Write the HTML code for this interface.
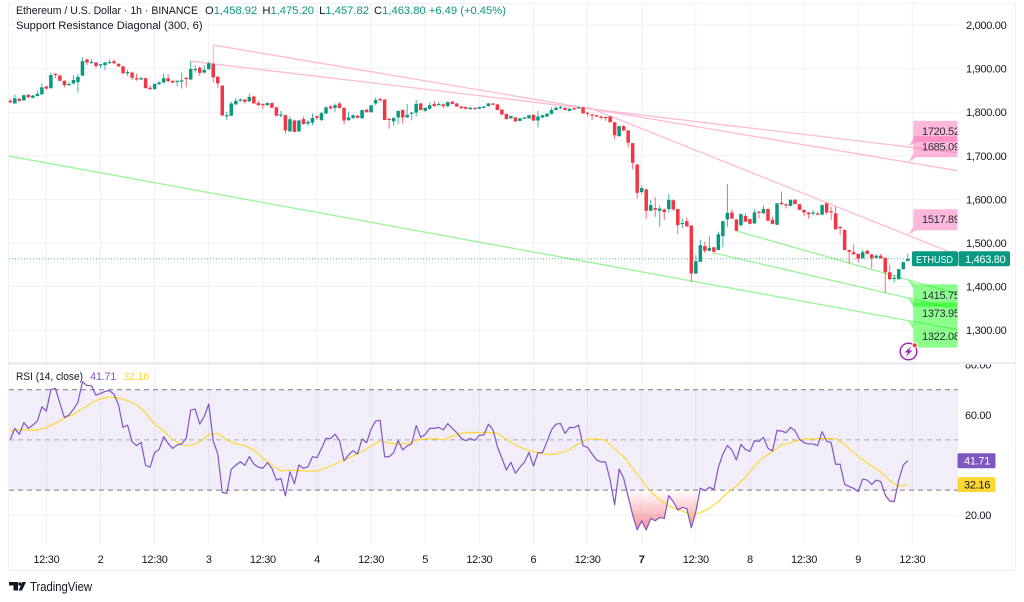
<!DOCTYPE html>
<html lang="en">
<head>
<meta charset="utf-8">
<title>ETHUSD chart</title>
<style>
html,body{margin:0;padding:0;background:#fff;width:1024px;height:602px;overflow:hidden}
svg{display:block;font-family:"Liberation Sans",sans-serif;filter:blur(.35px)}
text{fill:#131722;font-size:11px}
</style>
</head>
<body>
<svg id="chart" width="1024" height="602" viewBox="0 0 1024 602" xmlns="http://www.w3.org/2000/svg">
<defs>
<clipPath id="pane-clip"><rect x="9" y="3" width="948.5" height="359"/></clipPath>
<clipPath id="rsi-clip"><rect x="9" y="365" width="949" height="180"/></clipPath>
<clipPath id="rsi-low-clip"><rect id="rsi-low-rect" x="9" y="490" width="949" height="55"/></clipPath>
<clipPath id="rsi-high-clip"><rect id="rsi-high-rect" x="9" y="365" width="949" height="25"/></clipPath>
<clipPath id="label-80-clip"><rect x="958" y="364.5" width="60" height="14"/></clipPath>
<linearGradient id="rsi-low-grad" gradientUnits="userSpaceOnUse" x1="0" y1="490" x2="0" y2="530">
<stop offset="0" stop-color="#F23645" stop-opacity="0"/><stop offset="1" stop-color="#F23645" stop-opacity=".55"/>
</linearGradient>
<linearGradient id="rsi-high-grad" gradientUnits="userSpaceOnUse" x1="0" y1="390" x2="0" y2="365">
<stop offset="0" stop-color="#089981" stop-opacity="0"/><stop offset="1" stop-color="#089981" stop-opacity=".35"/>
</linearGradient>
</defs>
<rect x="8.5" y="3.5" width="1007" height="567" fill="#fff" stroke="#EEF1F8"/>
<g id="grid"></g>
<g id="rsi-pane"></g>
<g id="levels" clip-path="url(#pane-clip)"></g>
<line x1="8" x2="1016" y1="363" y2="363" stroke="#E9ECF2" stroke-width="2"/>
<line id="price-line" x1="9" x2="958" stroke="#089981" stroke-opacity=".7" stroke-width="1" stroke-dasharray="1 2"/>
<g id="candles"></g>
<g id="level-labels"></g>
<g id="axis"></g>

<g>
<text x="16" y="14" textLength="182" lengthAdjust="spacingAndGlyphs" style="font-size:11.2px">Ethereum / U.S. Dollar · 1h · BINANCE</text>
<text x="205" y="14" style="font-size:11.2px">O<tspan style="fill:#089981">1,458.92</tspan> <tspan dx="2">H</tspan><tspan style="fill:#089981">1,475.20</tspan> <tspan dx="2">L</tspan><tspan style="fill:#089981">1,457.82</tspan> <tspan dx="2">C</tspan><tspan style="fill:#089981">1,463.80 +6.49 (+0.45%)</tspan></text>
<text x="16" y="29" style="font-size:11.2px">Support Resistance Diagonal (300, 6)</text>
<text x="16" y="380" textLength="67" lengthAdjust="spacingAndGlyphs" style="font-size:11px">RSI (14, close)</text>
<text x="90" y="380" style="font-size:11px;fill:#7E57C2;letter-spacing:-.3px">41.71</text>
<text x="123" y="380" style="font-size:11px;fill:#FDD835;letter-spacing:-.3px">32.16</text>
</g>

<g>
<circle cx="908.5" cy="351.5" r="8.3" fill="#fff" stroke="#9C27B0" stroke-width="1.5"/>
<polygon points="911.5,346 904.5,352.5 908,352.5 905.5,357 912.5,350.5 909,350.5" fill="#9C27B0"/>
<circle cx="914.7" cy="345.3" r="2.6" fill="#F23645" stroke="#fff" stroke-width="1"/>
</g>

<g>
<polygon points="9,582 18,582 18,590.5 13.5,590.5 13.5,585.5 9,585.5" fill="#131722"/>
<circle cx="20" cy="584" r="1.7" fill="#131722"/>
<polygon points="18.5,590.5 22.5,582 26,582 22,590.5" fill="#131722"/>
<text x="30" y="591" textLength="62" lengthAdjust="spacingAndGlyphs" style="font-size:13px">TradingView</text>
</g>
</svg>

<script>
const opens=[1826,1820,1831,1827,1840,1833,1837,1841,1859,1855,
1888,1884,1872,1863,1866,1869,1884,1921,1914,1914,
1907,1908,1914,1917,1911,1905,1889,1891,1878,1875,
1878,1856,1853,1864,1868,1878,1872,1871,1872,1879,
1875,1897,1902,1891,1899,1910,1881,1861,1791,1792,
1818,1826,1829,1825,1836,1821,1819,1816,1821,1811,
1792,1793,1756,1781,1756,1784,1774,1776,1791,1782,
1797,1813,1810,1820,1810,1782,1787,1792,1786,1806,
1800,1820,1830,1829,1785,1779,1788,1805,1788,1797,
1799,1820,1803,1808,1819,1817,1818,1814,1824,1820,
1813,1812,1807,1810,1808,1810,1814,1820,1818,1806,
1796,1786,1788,1780,1785,1786,1794,1781,1788,1790,
1796,1805,1810,1810,1803,1809,1810,1811,1799,1795,
1793,1790,1789,1790,1777,1745,1768,1758,1729,1680,
1617,1623,1574,1580,1574,1577,1578,1598,1578,1544,
1550,1540,1430,1457,1493,1482,1490,1484,1516,1554,
1570,1554,1541,1562,1555,1545,1572,1568,1578,1553,
1542,1592,1589,1585,1599,1589,1576,1570,1567,1568,
1565,1591,1573,1568,1537,1530,1484,1479,1475,1465,
1482,1474,1466,1471,1466,1433,1419,1417,1440,1458.92];
const highs=[1830,1841,1832,1840,1841,1840,1849,1866,1860,1891,
1889,1886,1873,1869,1885,1888,1926,1923,1922,1915,
1911,1915,1920,1921,1912,1906,1897,1893,1888,1881,
1879,1862,1865,1872,1889,1887,1873,1873,1891,1880,
1917,1908,1905,1908,1916,1914,1884,1862,1801,1824,
1833,1832,1830,1843,1838,1826,1820,1823,1822,1813,
1803,1795,1790,1783,1782,1790,1782,1797,1793,1801,
1814,1816,1820,1823,1811,1801,1795,1793,1806,1807,
1817,1834,1833,1830,1786,1788,1804,1806,1819,1801,
1828,1821,1811,1822,1826,1824,1820,1825,1826,1821,
1814,1813,1813,1811,1813,1814,1821,1821,1819,1807,
1797,1792,1789,1787,1789,1794,1795,1803,1794,1797,
1811,1814,1815,1811,1809,1810,1813,1812,1800,1796,
1794,1791,1790,1791,1778,1769,1771,1759,1730,1681,
1632,1625,1599,1605,1586,1579,1612,1600,1579,1556,
1559,1541,1472,1508,1503,1516,1491,1526,1551,1635,
1577,1555,1568,1568,1556,1577,1573,1585,1579,1560,
1592,1618,1590,1600,1601,1590,1577,1571,1576,1572,
1588,1593,1583,1583,1538,1531,1485,1497,1476,1484,
1484,1475,1474,1475,1467,1450,1427,1440,1457,1475.2];
const lows=[1821,1820,1823,1826,1833,1832,1836,1840,1852,1854,
1878,1872,1857,1860,1864,1845,1883,1908,1912,1901,
1901,1897,1911,1911,1904,1889,1883,1874,1872,1874,
1855,1851,1852,1863,1866,1869,1867,1859,1854,1857,
1874,1893,1883,1888,1897,1868,1855,1791,1782,1791,
1816,1824,1820,1823,1820,1815,1807,1815,1810,1790,
1788,1750,1755,1754,1754,1771,1768,1770,1782,1780,
1796,1806,1801,1808,1772,1780,1784,1787,1785,1799,
1799,1816,1824,1782,1762,1769,1772,1774,1787,1782,
1790,1804,1801,1805,1813,1815,1809,1811,1818,1812,
1808,1806,1805,1805,1807,1809,1813,1816,1805,1793,
1784,1785,1778,1779,1784,1785,1780,1765,1786,1789,
1795,1804,1807,1804,1802,1805,1809,1797,1790,1782,
1789,1784,1780,1776,1738,1744,1757,1719,1669,1602,
1612,1555,1573,1560,1537,1553,1570,1574,1521,1534,
1537,1411,1429,1456,1476,1481,1476,1483,1490,1537,
1555,1527,1537,1548,1543,1544,1556,1567,1551,1543,
1541,1587,1579,1584,1589,1575,1562,1556,1563,1564,
1564,1566,1553,1531,1518,1483,1453,1473,1455,1464,
1475,1442,1465,1464,1386,1414,1409,1416,1439,1457.82];
const closes=[1823,1832,1826,1839,1834,1838,1842,1857,1854,1885,
1885,1872,1862,1865,1874,1881,1917,1914,1915,1906,
1910,1914,1915,1912,1905,1889,1892,1879,1875,1878,
1855,1853,1865,1868,1878,1871,1868,1872,1873,1876,
1899,1899,1890,1897,1912,1880,1866,1793,1793,1820,
1826,1829,1824,1835,1820,1816,1817,1821,1810,1792,
1795,1758,1784,1755,1781,1773,1778,1787,1787,1798,
1811,1809,1816,1810,1781,1788,1793,1787,1805,1800,
1816,1828,1828,1782,1782,1787,1803,1788,1794,1799,
1819,1805,1810,1816,1814,1819,1814,1823,1819,1813,
1809,1808,1810,1808,1812,1813,1820,1817,1805,1795,
1784,1791,1779,1786,1788,1793,1781,1790,1793,1797,
1805,1810,1812,1805,1808,1807,1811,1797,1797,1794,
1790,1788,1787,1777,1747,1768,1758,1730,1684,1615,
1626,1574,1587,1576,1579,1571,1599,1577,1541,1546,
1538,1430,1458,1495,1482,1489,1480,1520,1550,1569,
1556,1528,1566,1549,1544,1570,1570,1578,1551,1544,
1591,1589,1586,1599,1589,1576,1570,1566,1570,1565,
1587,1570,1571,1531,1534,1484,1480,1474,1464,1479,
1475,1465,1471,1465,1433,1417,1420,1440,1456,1463.8];
const rsiValues=[50.2,54.6,52.2,56.9,54.6,55.9,57.5,63.2,61.5,70.1,
70.5,64.6,58.9,59.9,62.2,65,73.2,71.7,71.6,67.8,
68.5,69.3,69.6,68.2,63.9,55,55.9,49.3,47.7,49,
39.9,39.1,45,46.2,51.3,48.6,46.6,48,48.4,50.6,
61.9,62.3,56.3,59.3,64.3,49.6,44.4,29.1,28.7,38.3,
39.9,41.3,39.9,43.3,40.4,39.1,38.7,40.9,38.7,34,
34.6,27.7,37.3,32.6,40,38.7,39.3,43.3,42.9,46.6,
50.6,50.5,52.3,49.7,41.7,44,45.7,44.4,50.4,48.9,
54.3,57.5,57.8,43.3,43.3,44.9,49.7,46,47.6,48.5,
55.7,51,52.2,54.6,54.6,55,54,56.5,54.6,52.9,
50.6,49.7,50.6,49.8,51.8,52,56.2,54.2,47.3,42.7,
38,41.1,36.7,39.1,41.1,45,39.6,44.9,44.9,49.3,
54,56.3,56.5,52.6,55,54.9,55.9,47.7,47,44.4,
42,41.2,41.2,34,24.1,38.4,34.7,27.4,20.1,14.1,
17.8,14.1,18.7,17.8,19.1,18.7,27.8,25.4,22.1,23.1,
22.6,15,21.4,30.7,29.8,31.1,30.3,39.1,44.4,47.8,
46,42,48.2,46.2,45.4,49.7,49.4,51,46.6,45.6,
53.8,53.5,52.9,55,53.7,50.2,48.9,48.4,48.4,47.7,
53.3,49.5,48.9,40.3,40.3,32.3,31.4,30.7,29.4,34.4,
34,32.2,34,33.4,28,25.6,25.4,34,40,41.71];
const rsiMaBars=[0,2,4,6,8,10,12,14,16,18,20,22,24,26,28,30,32,34,36,38,40,42,44,46,48,50,52,54,56,58,60,62,64,66,68,70,72,
74,76,78,80,82,84,86,88,90,92,94,96,98,100,102,104,106,108,110,112,114,116,118,120,122,124,126,128,130,132,134,136,138,140,142,144,146,148,
149,151,153,155,157,159,161,163,165,167,169,171,173,175,177,179,181,183,185,187,189,191,193,195,197,199];
const rsiMaValues=[53.4,54.2,54,53.8,54.9,56.6,58.6,60.2,62.4,64.8,66.4,67.1,66.7,65.6,64,60.85,56.3,53.5,50.2,48,47.6,49.2,52.1,52.6,50,48.4,47.7,46,42.7,40,37.6,38,37.7,37.6,37.6,38.9,40.4,
42,43.6,45.3,47.6,49.6,48.8,48.2,48.6,49.8,50.4,50.5,50,51.5,52.6,53,52.9,53,52.6,50.2,48,46.4,45.3,44.5,44.1,44.8,46.1,48.6,50.2,50.4,49.8,46.4,43.3,38.7,34,29.4,26.1,23.7,22.3,
21.7,20,21,22.7,25.4,29,31.6,35.1,39.6,43.1,45.3,48,48.9,50,50.4,50.5,50.5,50.5,48.2,44.9,42,39.6,37.2,33.8,31.5,32.16];

const priceTicks=[2000,1900,1800,1700,1600,1500,1400,1300];
const priceTickLabels=["2,000.00","1,900.00","1,800.00","1,700.00","1,600.00","1,500.00","1,400.00","1,300.00"];
const rsiTicks=[60,20];
const rsiTickLabels=["60.00","20.00"];
const rsiGridLevels=[80,60,40,20];
const rsiDashLevels=[70,50,30];
const timeTickBars=[8,20,32,44,56,68,80,92,104,116,128,140,152,164,176,188,200];
const timeTickLabels=["12:30","2","12:30","3","12:30","4","12:30","5","12:30","6","12:30","7","12:30","8","12:30","9","12:30"];
const lastBar=199;
const lineEndBar=210;
const resistanceStartBars=[40,45,128];
const resistanceStartPrices=[1917,1954,1812];
const resistanceLevels=[1720.52,1685.09,1517.89];
const supportStartBars=[161,156,-0.3];
const supportStartPrices=[1527.5,1477,1699.5];
const supportLevels=[1415.75,1373.95,1322.08];
const lastPrice=1463.8;
const lastRsi=41.71;
const lastRsiMa=32.16;

const SVGNS="http://www.w3.org/2000/svg";
const NUM='letter-spacing:-.3px;';
function xBar(i){return 10.3+4.51*i;}
function yPrice(p){return 25+(2000-p)*0.436;}
function yRsi(v){return 515.2-(v-20)*2.51;}
function add(parent,tag,attrs,txt){
  const el=document.createElementNS(SVGNS,tag);
  for(const k in attrs)el.setAttribute(k,attrs[k]);
  if(txt!==undefined)el.textContent=txt;
  parent.appendChild(el);
  return el;
}
const gridG=document.getElementById('grid');
const rsiG=document.getElementById('rsi-pane');
const levelsG=document.getElementById('levels');
const candlesG=document.getElementById('candles');
const labelsG=document.getElementById('level-labels');
const axisG=document.getElementById('axis');
const GRID="#F0F1F5";

/* grid */
timeTickBars.forEach(function(b){
  const x=xBar(b);
  const a=add(gridG,'line',{x1:x,x2:x,y1:4,y2:362,stroke:GRID});
  
  
  const c=add(gridG,'line',{x1:x,x2:x,y1:365,y2:545,stroke:GRID});
  
  
});
priceTicks.forEach(function(p){
  const l=add(gridG,'line',{x1:9,x2:958,y1:yPrice(p),y2:yPrice(p),stroke:GRID});
  
  
});

/* RSI pane */
const band=add(rsiG,'rect',{x:9,y:yRsi(70),width:949,height:yRsi(30)-yRsi(70),fill:'#7E57C2','fill-opacity':0.1});


rsiGridLevels.forEach(function(v){
  const l=add(rsiG,'line',{x1:9,x2:958,y1:yRsi(v),y2:yRsi(v),stroke:'#EEEFF4'});
  
  
});
rsiDashLevels.forEach(function(v){
  const mid=v===50;
  const l=add(rsiG,'line',{x1:9,x2:958,y1:yRsi(v),y2:yRsi(v),stroke:mid?'#A8ABB5':'#787B86','stroke-dasharray':'5 4'});
  
  
});
document.getElementById('rsi-low-rect').setAttribute('y',yRsi(30));
document.getElementById('rsi-high-rect').setAttribute('height',yRsi(70)-365);
const rsiPts=rsiValues.map(function(v,i){return xBar(i)+','+yRsi(v);});
const lowArea=add(rsiG,'polygon',{points:xBar(0)+','+yRsi(30)+' '+rsiPts.join(' ')+' '+xBar(lastBar)+','+yRsi(30),fill:'url(#rsi-low-grad)','clip-path':'url(#rsi-low-clip)'});


const highArea=add(rsiG,'polygon',{points:xBar(0)+','+yRsi(70)+' '+rsiPts.join(' ')+' '+xBar(lastBar)+','+yRsi(70),fill:'url(#rsi-high-grad)','clip-path':'url(#rsi-high-clip)'});


const maPts=rsiMaValues.map(function(v,i){return xBar(rsiMaBars[i])+','+yRsi(v);});
const maLine=add(rsiG,'polyline',{points:maPts.join(' '),fill:'none',stroke:'#FDD835','stroke-width':1.2,'stroke-linejoin':'round'});


const rsiLine=add(rsiG,'polyline',{points:rsiPts.join(' '),fill:'none',stroke:'#7E57C2','stroke-width':1.2,'stroke-linejoin':'round'});



/* trend lines through each printed level at the last bar */
const PINK='#FFBAD4',LIME='#98F598';
function trend(parent,startBar,startPrice,level,color){
  const slope=(level-startPrice)/(lastBar-startBar);
  const endPrice=level+slope*(lineEndBar-lastBar);
  return add(parent,'line',{x1:xBar(startBar),y1:yPrice(startPrice),x2:xBar(lineEndBar),y2:yPrice(endPrice),stroke:color,'stroke-width':1.3});
}
resistanceLevels.forEach(function(l,k){
  const ln=trend(levelsG,resistanceStartBars[k],resistanceStartPrices[k],l,PINK);
  
  
});
supportLevels.forEach(function(l,k){
  const ln=trend(levelsG,supportStartBars[k],supportStartPrices[k],l,LIME);
  
  
});
const vline=add(levelsG,'line',{x1:xBar(45),x2:xBar(45),y1:yPrice(1954),y2:yPrice(1912),stroke:PINK,'stroke-width':1.3});



/* last price line */
const pl=document.getElementById('price-line');
pl.setAttribute('y1',yPrice(lastPrice));
pl.setAttribute('y2',yPrice(lastPrice));

/* candles */
const UP='#089981',DOWN='#F23645';
closes.forEach(function(c,i){
  const o=opens[i],color=c>=o?UP:DOWN,x=xBar(i);
  const wick=add(candlesG,'line',{x1:x,x2:x,y1:yPrice(highs[i]),y2:yPrice(lows[i]),stroke:color,'stroke-width':1,'stroke-opacity':0.75});
  
  
  const top=yPrice(Math.max(o,c));
  const h=Math.max(yPrice(Math.min(o,c))-top,1.2);
  const body=add(candlesG,'rect',{x:x-1.75,y:top,width:3.5,height:h,fill:color});
  
  
});

/* level labels with callouts */
function callout(level,dirUp,fill){
  const tipY=yPrice(level),tipX=xBar(lastBar);
  const left=913.3,right=957.5;
  const top=dirUp?tipY-26:tipY+4.5;
  const bot=dirUp?tipY-5:tipY+27;
  const pts=dirUp?
    [[left,top],[right,top],[right,bot],[left+3,bot],[tipX,tipY],[left,bot-3]]:
    [[left+3,top],[right,top],[right,bot],[left,bot],[left,top+4],[tipX,tipY]];
  const g=add(labelsG,'g',{});
  
  
  const p=add(g,'polygon',{points:pts.map(function(q){return q.join(',');}).join(' '),fill:fill,'fill-opacity':dirUp?0.48:0.45});
  
  
  const t=add(g,'text',{x:922,y:(top+bot)/2+3.5,'clip-path':'url(#pane-clip)',style:NUM+'fill:#2a2e39;font-size:11px'},level.toFixed(2));
  
  
}
resistanceLevels.forEach(function(l){callout(l,true,'#FF69B4');});
supportLevels.forEach(function(l){callout(l,false,'#00FF00');});

/* axis labels */
priceTicks.forEach(function(p,k){
  const t=add(axisG,'text',{x:966,y:yPrice(p)+4,style:NUM},priceTickLabels[k]);
  
  
});
rsiTicks.forEach(function(v,k){
  const t=add(axisG,'text',{x:965,y:yRsi(v)+4,style:NUM},rsiTickLabels[k]);
  
  
});
const t80=add(axisG,'text',{x:965,y:yRsi(80)+4,'clip-path':'url(#label-80-clip)',style:NUM},"80.00");


timeTickBars.forEach(function(b,k){
  const isBold=timeTickLabels[k]==="7";
  const t=add(axisG,'text',{x:xBar(b),y:563,'text-anchor':'middle',style:NUM+(isBold?'font-weight:bold':'')},timeTickLabels[k]);
  
  
});

/* current value tags */
const ly=yPrice(lastPrice);
const symTag=add(axisG,'rect',{x:912,y:ly-7.5,width:46,height:15,rx:2,fill:UP});


const priceTag=add(axisG,'rect',{x:958.5,y:ly-7.5,width:51.5,height:15,rx:2,fill:UP});


const symTxt=add(axisG,'text',{x:916,y:ly+4,textLength:37,lengthAdjust:'spacingAndGlyphs',style:'fill:#fff;font-size:10.5px'},"ETHUSD");


const priceTxt=add(axisG,'text',{x:965,y:ly+4,style:NUM+'fill:#fff'},"1,463.80");


const rTag=add(axisG,'rect',{x:957.5,y:yRsi(lastRsi)-7.5,width:38,height:15,rx:1.5,fill:'#7E57C2'});


const rTxt=add(axisG,'text',{x:964,y:yRsi(lastRsi)+4,style:NUM+'fill:#fff'},lastRsi.toFixed(2));


const mTag=add(axisG,'rect',{x:957.5,y:yRsi(lastRsiMa)-7.5,width:38,height:15,rx:1.5,fill:'#FDD835'});


const mTxt=add(axisG,'text',{x:964,y:yRsi(lastRsiMa)+4,style:NUM+'fill:#131722'},lastRsiMa.toFixed(2));


</script>
</body>
</html>
